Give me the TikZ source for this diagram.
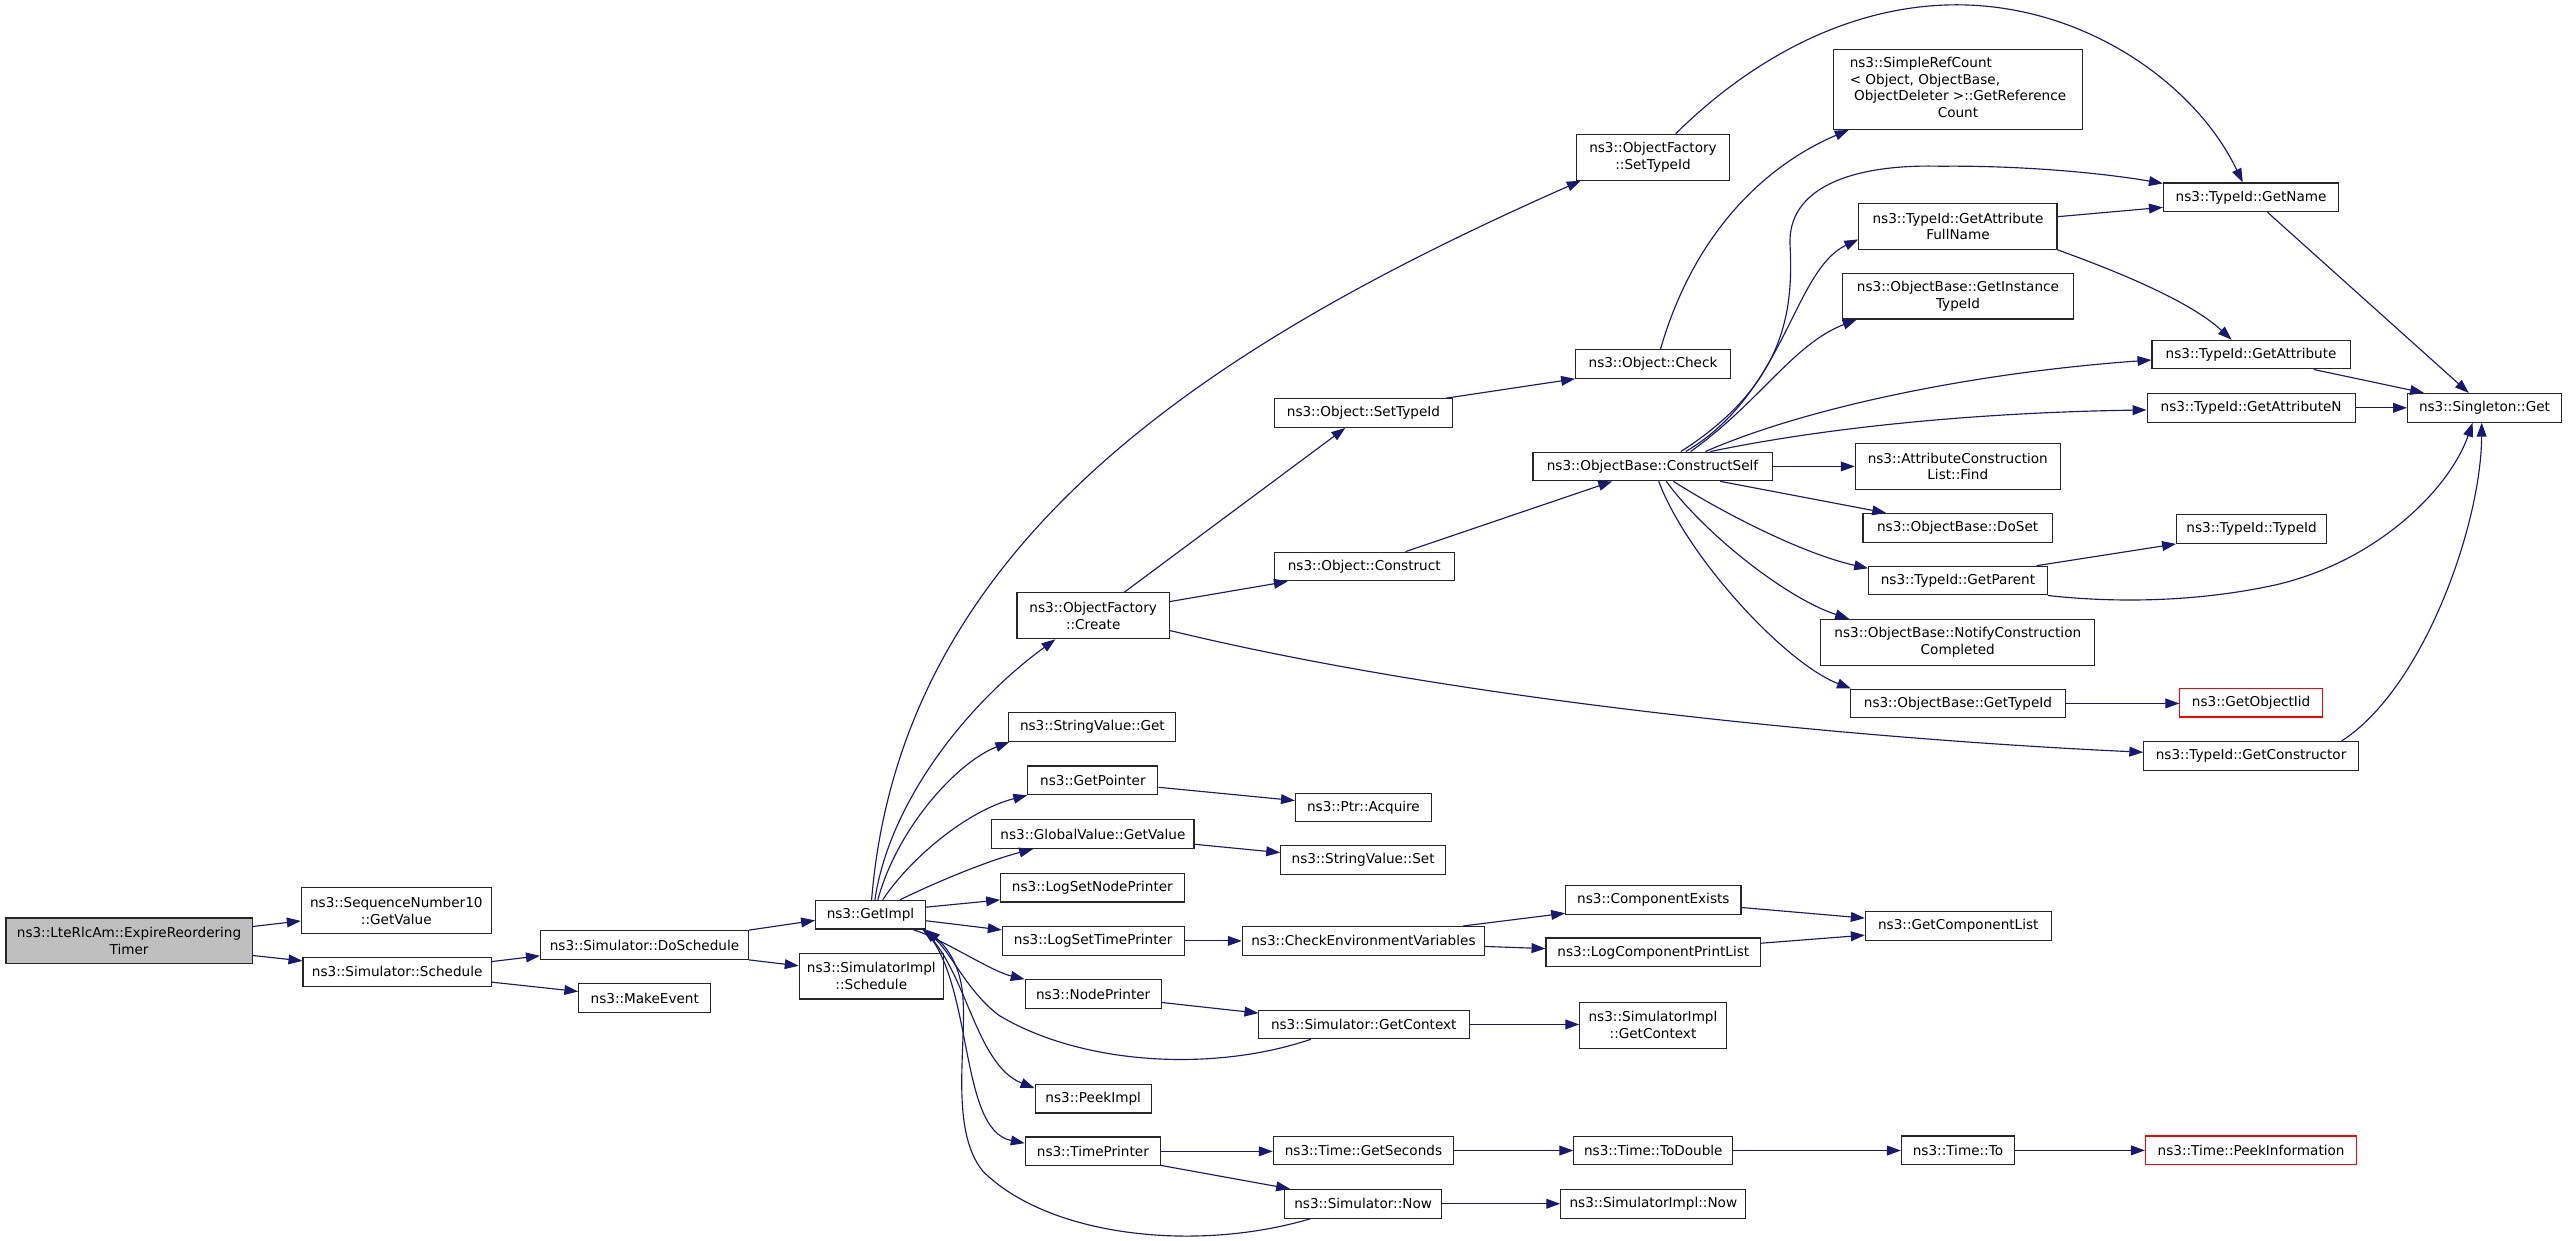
\documentclass[tikz,border=0pt]{standalone}
\usepackage{fontspec}
\setmainfont{DejaVu Sans}
\usetikzlibrary{arrows.meta,calc}
\definecolor{edgeblue}{HTML}{191970}
\definecolor{rootgray}{HTML}{BFBFBF}
\tikzset{
  box/.style={draw=black!85, line width=0.7pt, fill=white, inner sep=0pt, align=center, font=\fontsize{8.3}{10.2}\selectfont},
  one/.style={minimum height=17.5pt},
  two/.style={minimum height=28pt},
  rootbox/.style={box, two, fill=rootgray},
  redbox/.style={box, one, draw=red},
  edge/.style={draw=edgeblue, line width=0.7pt, -{Triangle[length=8.5pt,width=6pt]}},
}
\begin{document}
\begin{tikzpicture}[x=1pt,y=-1pt]
\useasboundingbox (0,0) rectangle (1568,757.7);
% nodes
\node[rootbox,minimum width=150.3pt] (root) at (78.8,574.5) {ns3::LteRlcAm::ExpireReordering\\Timer};
\node[box,two,minimum width=116pt] (seq) at (242,556) {ns3::SequenceNumber10\\::GetValue};
\node[box,one,minimum width=115pt] (sched) at (242.5,593.4) {ns3::Simulator::Schedule};
\node[box,one,minimum width=127pt] (dosch) at (393.5,577) {ns3::Simulator::DoSchedule};
\node[box,one,minimum width=80.5pt] (mkev) at (393.7,609.5) {ns3::MakeEvent};
\node[box,two,minimum width=88pt] (simsch) at (532,596) {ns3::SimulatorImpl\\::Schedule};
\node[box,one,minimum width=67pt] (gimpl) at (531.5,558.5) {ns3::GetImpl};
\node[box,two,minimum width=93pt] (create) at (667.5,376) {ns3::ObjectFactory\\::Create};
\node[box,one,minimum width=102pt] (svget) at (667,444) {ns3::StringValue::Get};
\node[box,one,minimum width=79.4pt] (gptr) at (667.3,476.5) {ns3::GetPointer};
\node[box,one,minimum width=123.5pt] (gvget) at (667.3,509.3) {ns3::GlobalValue::GetValue};
\node[box,one,minimum width=112pt] (lsnp) at (667,542) {ns3::LogSetNodePrinter};
\node[box,one,minimum width=111pt] (lstp) at (667.5,574.5) {ns3::LogSetTimePrinter};
\node[box,one,minimum width=83pt] (nodep) at (667.5,607) {ns3::NodePrinter};
\node[box,one,minimum width=71pt] (peek) at (667.5,670.8) {ns3::PeekImpl};
\node[box,one,minimum width=82.5pt] (timep) at (667.3,703) {ns3::TimePrinter};
\node[box,two,minimum width=93.5pt] (ofset) at (1009.3,96) {ns3::ObjectFactory\\::SetTypeId};
\node[box,one,minimum width=109pt] (osettid) at (832.5,252.2) {ns3::Object::SetTypeId};
\node[box,one,minimum width=94.5pt] (check) at (1009.3,222.2) {ns3::Object::Check};
\node[box,one,minimum width=110pt] (constr) at (833,345.9) {ns3::Object::Construct};
\node[box,one,minimum width=146pt] (cself) at (1009,284.8) {ns3::ObjectBase::ConstructSelf};
\node[box,minimum height=49pt,minimum width=151.7pt] (refcnt) at (1195.5,54.5) {\begin{tabular}{@{}l@{}}ns3::SimpleRefCount\\< Object, ObjectBase,\\\multicolumn{1}{@{}c@{}}{\ ObjectDeleter >::GetReference}\\\multicolumn{1}{@{}c@{}}{Count}\end{tabular}};
\node[box,one,minimum width=107pt] (gname) at (1374.5,120.5) {ns3::TypeId::GetName};
\node[box,two,minimum width=121pt] (fullname) at (1195.5,138.2) {ns3::TypeId::GetAttribute\\FullName};
\node[box,two,minimum width=141pt] (instance) at (1195.5,180.8) {ns3::ObjectBase::GetInstance\\TypeId};
\node[box,one,minimum width=121pt] (gattr) at (1374.5,216.5) {ns3::TypeId::GetAttribute};
\node[box,one,minimum width=127pt] (gattrn) at (1374.5,249) {ns3::TypeId::GetAttributeN};
\node[box,one,minimum width=94pt] (single) at (1517,249) {ns3::Singleton::Get};
\node[box,two,minimum width=125.2pt] (acfind) at (1195.4,284.8) {ns3::AttributeConstruction\\List::Find};
\node[box,one,minimum width=115.5pt] (doset) at (1195.3,322.3) {ns3::ObjectBase::DoSet};
\node[box,one,minimum width=91.6pt] (tidtid) at (1374.8,323) {ns3::TypeId::TypeId};
\node[box,one,minimum width=109pt] (gparent) at (1195.5,354.5) {ns3::TypeId::GetParent};
\node[box,two,minimum width=167.3pt] (notify) at (1195.4,392.2) {ns3::ObjectBase::NotifyConstruction\\Completed};
\node[box,one,minimum width=131pt] (obgtid) at (1195.5,429.5) {ns3::ObjectBase::GetTypeId};
\node[redbox,minimum width=87pt] (objiid) at (1374.5,429) {ns3::GetObjectIid};
\node[box,one,minimum width=131pt] (gctor) at (1374.5,461.5) {ns3::TypeId::GetConstructor};
\node[box,one,minimum width=107pt] (compex) at (1009.5,549.4) {ns3::ComponentExists};
\node[box,one,minimum width=113.5pt] (gcl) at (1195.7,565.5) {ns3::GetComponentList};
\node[box,one,minimum width=148pt] (chkenv) at (832.5,574.5) {ns3::CheckEnvironmentVariables};
\node[box,one,minimum width=131pt] (lcpl) at (1009.5,581.5) {ns3::LogComponentPrintList};
\node[box,one,minimum width=128.6pt] (sgctx) at (832.7,625.5) {ns3::Simulator::GetContext};
\node[box,two,minimum width=89.4pt] (sictx) at (1009.3,626) {ns3::SimulatorImpl\\::GetContext};
\node[box,one,minimum width=110pt] (gsec) at (832.5,702.5) {ns3::Time::GetSeconds};
\node[box,one,minimum width=97pt] (todbl) at (1009.5,702.5) {ns3::Time::ToDouble};
\node[box,one,minimum width=69pt] (timeto) at (1195.5,702.4) {ns3::Time::To};
\node[redbox,minimum width=129pt] (peekinfo) at (1374.5,702.4) {ns3::Time::PeekInformation};
\node[box,one,minimum width=95.5pt] (snow) at (832.3,735) {ns3::Simulator::Now};
\node[box,one,minimum width=113pt] (sinow) at (1009.5,735) {ns3::SimulatorImpl::Now};
\node[box,one,minimum width=83pt] (acq) at (832.5,493) {ns3::Ptr::Acquire};
\node[box,one,minimum width=100.6pt] (svset) at (832.3,525) {ns3::StringValue::Set};
% edges
\draw[edge] ($(root.east)+(0,-8.8)$) -- ($(seq.west)+(0,6.3)$);
\draw[edge] ($(root.east)+(0,8.9)$) -- ($(sched.west)+(0,-6.7)$);
\draw[edge] ($(sched.east)+(0,-6.3)$) -- ($(dosch.west)+(0,6.6)$);
\draw[edge] ($(sched.east)+(0,6.3)$) -- ($(mkev.west)+(0,-4.1)$);
\draw[edge] (dosch.north east) -- ($(gimpl.west)+(0,3.5)$);
\draw[edge] (dosch.south east) -- ($(simsch.west)+(0,-6.3)$);
\draw[edge] ($(gimpl.east)+(0,-4.6)$) -- ($(lsnp.west)+(0,7.5)$);
\draw[edge] ($(gimpl.east)+(0,3.7)$) -- ($(lstp.west)+(0,-6.7)$);
\draw[edge] ($(gimpl.north)+(0.7,0)$) .. controls (550,330) and (740,210) .. ($(ofset.south west)+(3,0)$);
\draw[edge] ($(gimpl.north)+(2.7,0)$) .. controls (543,490) and (590,430) .. ($(create.south)+(-23.1,0)$);
\draw[edge] ($(gimpl.north)+(4.5,0)$) .. controls (548,505) and (585,465) .. ($(svget.south west)+(0.6,0)$);
\draw[edge] ($(gimpl.north)+(7.5,0)$) .. controls (555,525) and (590,495) .. (gptr.south west);
\draw[edge] ($(gimpl.north)+(18,0)$) .. controls (575,537) and (605,525) .. ($(gvget.south)+(-36.5,0)$);
\draw[edge] ($(gimpl.south)+(26,0)$) .. controls (575,573) and (605,593) .. (nodep.north west);
\draw[edge] ($(gimpl.south east)+(-2,0)$) .. controls (590,590) and (595,650) .. ($(peek.west)+(0,-6.4)$);
\draw[edge] ($(gimpl.south east)+(-1,0)$) .. controls (595,600) and (585,690) .. ($(timep.west)+(0,-5)$);
\draw[edge] ($(sgctx.south)+(-32.4,0)$) .. controls (740,655) and (660,650) .. (610,620) .. controls (590,605) and (580,580) .. ($(gimpl.south east)+(-2,0)$);
\draw[edge] ($(snow.south)+(-32,0)$) .. controls (730,765) and (640,755) .. (600,715) .. controls (580,690) and (590,640) .. (588,610) .. controls (587,590) and (578,578) .. (gimpl.south east);
\draw[edge] ($(create.north)+(18.9,0)$) -- ($(osettid.south)+(-11.1,0)$);
\draw[edge] ($(create.east)+(0,-8.7)$) -- ($(constr.south)+(-46.7,0)$);
\draw[edge] ($(create.east)+(0,9)$) .. controls (900,430) and (1150,452) .. ($(gctor.west)+(0,-2.2)$);
\draw[edge] ($(osettid.north)+(50.5,0)$) -- (check.south west);
\draw[edge] ($(constr.north)+(25.2,0)$) -- ($(cself.south)+(-24.6,0)$);
\draw[edge] ($(check.north)+(4.6,0)$) .. controls (1035,140) and (1080,100) .. ($(refcnt.south)+(-66.7,0)$);
\draw[edge] ($(ofset.north)+(13.9,0)$) .. controls (1050,55) and (1110,5) .. (1190,3) .. controls (1270,1) and (1340,50) .. ($(gname.north)+(-5.1,0)$);
\draw[edge] (cself.east) -- (acfind.west);
\draw[edge] ($(cself.south)+(41.3,0)$) -- ($(doset.north west)+(14.45,0)$);
\draw[edge] ($(cself.south)+(12.8,0)$) .. controls (1050,312) and (1100,338) .. ($(gparent.west)+(0,-7.5)$);
\draw[edge] ($(cself.south)+(8.4,0)$) .. controls (1040,325) and (1090,365) .. ($(notify.north west)+(17.65,0)$);
\draw[edge] ($(cself.south)+(3.8,0)$) .. controls (1030,340) and (1090,405) .. ($(obgtid.north west)+(0.5,0)$);
\draw[edge] ($(cself.north)+(17.3,0)$) .. controls (1090,235) and (1095,190) .. (1093,150) .. controls (1091,115) and (1130,100) .. (1185,101.5) .. controls (1230,101) and (1280,105) .. ($(gname.west)+(0,-8.5)$);
\draw[edge] ($(cself.north)+(20.3,0)$) .. controls (1090,240) and (1095,165) .. ($(fullname.west)+(0,8)$);
\draw[edge] ($(cself.north)+(23.3,0)$) .. controls (1075,245) and (1095,210) .. ($(instance.south west)+(9,0)$);
\draw[edge] ($(cself.north)+(32.3,0)$) .. controls (1100,250) and (1200,228) .. ($(gattr.west)+(0,3.3)$);
\draw[edge] ($(cself.north)+(35.3,0)$) .. controls (1110,262) and (1200,252) .. ($(gattrn.west)+(0,1.3)$);
\draw[edge] ($(fullname.east)+(0,-5.9)$) -- ($(gname.west)+(0,6.1)$);
\draw[edge] (fullname.south east) .. controls (1285,163) and (1335,182) .. ($(gattr.north)+(-11.9,0)$);
\draw[edge] ($(gname.south)+(10,0)$) -- ($(single.north)+(-9.6,0)$);
\draw[edge] ($(gattr.south)+(38.2,0)$) -- ($(single.north west)+(10.4,0)$);
\draw[edge] (gattrn.east) -- (single.west);
\draw[edge] ($(gparent.north)+(48,0)$) -- (tidtid.south west);
\draw[edge] (gparent.south east) .. controls (1290,368) and (1340,368) .. (1390,357) .. controls (1450,343) and (1495,300) .. ($(single.south)+(-7.2,0)$);
\draw[edge] ($(gctor.north)+(55.3,0)$) .. controls (1480,420) and (1515,320) .. ($(single.south)+(-1.7,0)$);
\draw[edge] (obgtid.east) -- (obgtid.east -| objiid.west);
\draw[edge] ($(nodep.east)+(0,5.1)$) -- ($(sgctx.west)+(0.3,-6.9)$);
\draw[edge] (lstp.east) -- (chkenv.west);
\draw[edge] ($(chkenv.north)+(60.7,0)$) -- ($(compex.west)+(0,8.2)$);
\draw[edge] ($(chkenv.east)+(0,3.4)$) -- ($(lcpl.west)+(0,-2.3)$);
\draw[edge] ($(compex.east)+(0,4.7)$) -- ($(gcl.west)+(0,-4.9)$);
\draw[edge] ($(lcpl.east)+(0,-5.6)$) -- ($(gcl.west)+(0,5.5)$);
\draw[edge] (sgctx.east) -- (sgctx.east -| sictx.west);
\draw[edge] (timep.east) -- (timep.east -| gsec.west);
\draw[edge] ($(timep.south east)+(0,-0.5)$) -- ($(snow.north west)+(3.5,0)$);
\draw[edge] (gsec.east) -- (gsec.east -| todbl.west);
\draw[edge] (snow.east) -- (snow.east -| sinow.west);
\draw[edge] (todbl.east) -- (todbl.east -| timeto.west);
\draw[edge] (timeto.east) -- (timeto.east -| peekinfo.west);
\draw[edge] ($(gptr.east)+(0,4.2)$) -- ($(acq.west)+(0,-4.2)$);
\draw[edge] ($(gvget.east)+(0,6.2)$) -- ($(svset.west)+(0,-4.4)$);
\end{tikzpicture}
\end{document}
